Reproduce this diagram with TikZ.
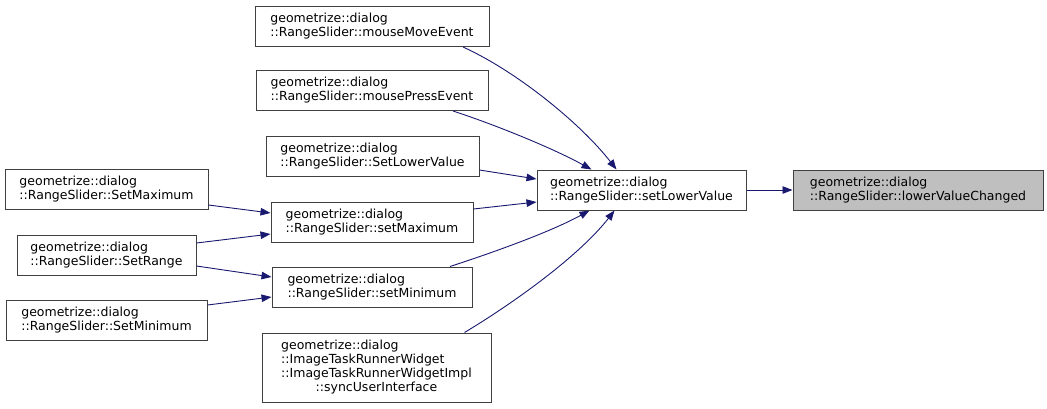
\documentclass[tikz,border=0pt]{standalone}
\usepackage{fontspec}
\setmainfont{DejaVu Sans}
\usetikzlibrary{arrows.meta}
\definecolor{edgec}{HTML}{191970}
\definecolor{boxc}{HTML}{404040}
\definecolor{hlc}{HTML}{BFBFBF}
\tikzset{
  fn/.style={draw=boxc, line width=1pt, fill=white, rectangle, inner sep=0pt,
    font=\fontsize{12.5}{14}\selectfont, align=left},
  hl/.style={fn, fill=hlc},
  call/.style={draw=edgec, line width=0.9pt, -{Triangle[length=10pt,width=7.5pt]}}
}
\begin{document}
\begin{tikzpicture}[x=1pt,y=-1pt]
\useasboundingbox (0,0) rectangle (1047,408);
\node[fn, minimum width=234pt, minimum height=40pt] (mme) at (372,26.5) {geometrize::dialog\\::RangeSlider::mouseMoveEvent};
\node[fn, minimum width=232pt, minimum height=40pt] (mpe) at (372,90.5) {geometrize::dialog\\::RangeSlider::mousePressEvent};
\node[fn, minimum width=213pt, minimum height=40pt] (slvU) at (372.5,156.5) {geometrize::dialog\\::RangeSlider::SetLowerValue};
\node[fn, minimum width=202pt, minimum height=40pt] (smax) at (372,222) {geometrize::dialog\\::RangeSlider::setMaximum};
\node[fn, minimum width=200pt, minimum height=40pt] (smin) at (372,287) {geometrize::dialog\\::RangeSlider::setMinimum};
\node[fn, minimum width=229pt, minimum height=69pt] (sync) at (376.5,367.5) {\begin{tabular}{@{}l@{}}geometrize::dialog\\::ImageTaskRunnerWidget\\::ImageTaskRunnerWidgetImpl\\\multicolumn{1}{@{}c@{}}{::syncUserInterface}\end{tabular}};
\node[fn, minimum width=203pt, minimum height=40pt] (SMax) at (106.5,189.5) {geometrize::dialog\\::RangeSlider::SetMaximum};
\node[fn, minimum width=179pt, minimum height=40pt] (SRange) at (106.5,255) {geometrize::dialog\\::RangeSlider::SetRange};
\node[fn, minimum width=201pt, minimum height=40pt] (SMin) at (106.5,320) {geometrize::dialog\\::RangeSlider::SetMinimum};
\node[fn, minimum width=209pt, minimum height=40pt] (slv) at (641.5,190) {geometrize::dialog\\::RangeSlider::setLowerValue};
\node[hl, minimum width=250pt, minimum height=40pt] (lvc) at (918,190) {geometrize::dialog\\::RangeSlider::lowerValueChanged};

\draw[call] (slv.east) -- (lvc.west);
\draw[call] ([xshift=91pt]mme.south) .. controls +(55,25) and +(-35,-45) .. ([xshift=-25pt]slv.north);
\draw[call] ([xshift=81pt]mpe.south) .. controls +(40,13) and +(-40,-22) .. ([xshift=-50pt]slv.north);
\draw[call] ([yshift=-13.5pt]slvU.east) -- ([yshift=11pt]slv.west);
\draw[call] ([yshift=13pt]smax.east) -- ([yshift=-12pt]slv.west);
\draw[call] ([xshift=78pt]smin.north) .. controls +(40,-13) and +(-40,22) .. ([xshift=-52pt]slv.south);
\draw[call] ([xshift=88pt]sync.north) .. controls +(50,-30) and +(-35,45) .. ([xshift=-27pt]slv.south);
\draw[call] ([yshift=-15.5pt]SMax.east) -- ([yshift=9pt]smax.west);
\draw[call] ([yshift=12pt]SRange.east) -- ([yshift=-12pt]smax.west);
\draw[call] ([yshift=-11pt]SRange.east) -- ([yshift=10pt]smin.west);
\draw[call] ([yshift=15pt]SMin.east) -- ([yshift=-10pt]smin.west);
\end{tikzpicture}
\end{document}
